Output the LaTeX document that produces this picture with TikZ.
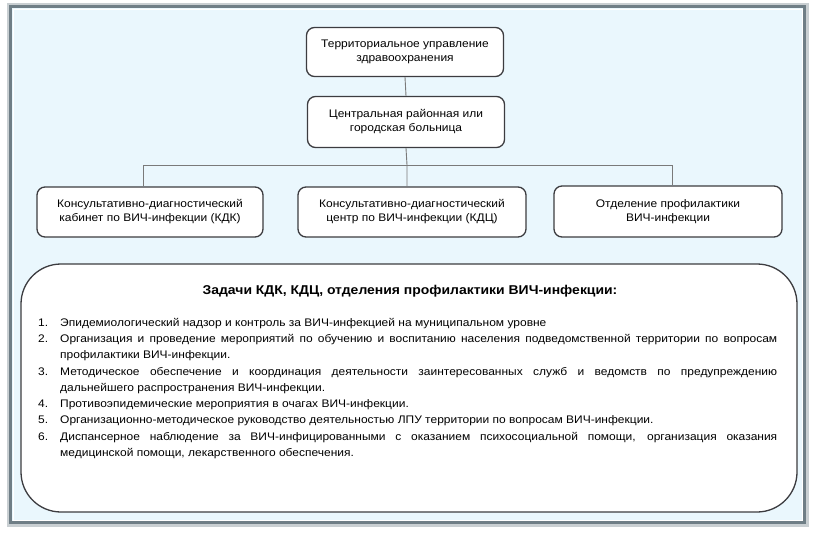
\documentclass[tikz,border=0pt]{standalone}
\usepackage{fontspec}
\setmainfont{Liberation Sans}[FakeStretch=1.09]
\definecolor{bgblue}{HTML}{EAF7FD}
\definecolor{framegray}{HTML}{6F7E86}
\definecolor{halogray}{HTML}{C9CFD2}
\definecolor{boxline}{HTML}{3C3C40}
\definecolor{conngray}{HTML}{7A7A7A}
\tikzset{
  orgbox/.style={draw=boxline, line width=1.3pt, fill=white, rounded corners=8pt,
    align=center, font=\fontsize{11}{14}\selectfont, inner sep=2pt},
  conn/.style={draw=conngray, line width=0.9pt},
}
\newcommand{\itm}[1]{\hangindent=22pt\hangafter=1\makebox[22pt][l]{#1}}
\begin{document}
\begin{tikzpicture}[x=1pt,y=-1pt]
\useasboundingbox (0,0) rectangle (818,533);
% outer frame
\fill[halogray] (7,3) rectangle (809,527);
\fill[bgblue] (10,6) rectangle (805,523);
\draw[framegray, line width=3pt] (10.5,6.5) rectangle (804.5,522.5);
\draw[white, line width=1pt] (13,9) rectangle (802,520);

\node[orgbox, minimum width=197pt, minimum height=49pt] (tb) at (405,52)
  {Территориальное управление\\здравоохранения};
\node[orgbox, minimum width=197pt, minimum height=51pt] (cb) at (406,122)
  {Центральная районная или\\городская больница};
\node[orgbox, minimum width=226pt, minimum height=50pt] (kdk) at (150,212)
  {Консультативно-диагностический\\кабинет по ВИЧ-инфекции (КДК)};
\node[orgbox, minimum width=228pt, minimum height=50pt] (kdc) at (412,212)
  {Консультативно-диагностический\\центр по ВИЧ-инфекции (КДЦ)};
\node[orgbox, minimum width=228pt, minimum height=51pt] (otd) at (668,211.5)
  {Отделение профилактики\\ВИЧ-инфекции};

\coordinate (hl) at (143,165);
\coordinate (hr) at (672,165);
\coordinate (hm) at (407,165);
\draw[conn] (tb.south) -- (cb.north);
\draw[conn] (cb.south) -- (hm) -- (hm |- kdc.north);
\draw[conn] (hl) -- (hr);
\draw[conn] (hl) -- (hl |- kdk.north);
\draw[conn] (hr) -- (hr |- otd.north);

\node[draw=boxline, line width=1.3pt, fill=white, rounded corners=40pt,
  minimum width=776pt, minimum height=248pt] (tasks) at (409,388) {};

\node[font=\bfseries\fontsize{12.8}{15}\selectfont] (title) at (410,291)
  {Задачи КДК, КДЦ, отделения профилактики ВИЧ-инфекции:};

\node[anchor=north west, inner sep=0pt, text width=739pt, align=justify,
  font=\fontsize{11}{16.25}\selectfont] (list) at (38,318)
  {%
  \itm{1.}Эпидемиологический надзор и контроль за ВИЧ-инфекцией на муниципальном уровне\par
  \itm{2.}Организация и проведение мероприятий по обучению и воспитанию населения подведомственной территории по вопросам\linebreak профилактики ВИЧ-инфекции.\par
  \itm{3.}Методическое обеспечение и координация деятельности заинтересованных служб и ведомств по предупреждению\linebreak дальнейшего распространения ВИЧ-инфекции.\par
  \itm{4.}Противоэпидемические мероприятия в очагах ВИЧ-инфекции.\par
  \itm{5.}Организационно-методическое руководство деятельностью ЛПУ территории по вопросам ВИЧ-инфекции.\par
  \itm{6.}Диспансерное наблюдение за ВИЧ-инфицированными с оказанием психосоциальной помощи, организация оказания\linebreak медицинской помощи, лекарственного обеспечения.\par
  };
\end{tikzpicture}
\end{document}
